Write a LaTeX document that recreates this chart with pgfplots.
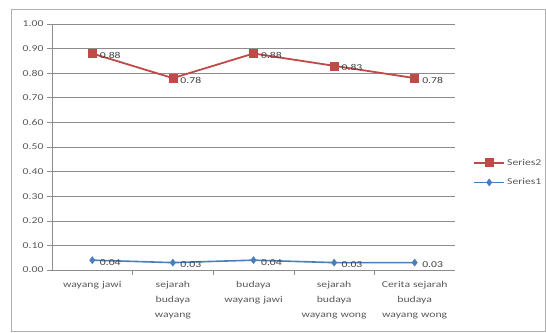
\documentclass[border=0pt]{standalone}
\usepackage{pgfplots}
\pgfplotsset{compat=1.18}
\usepackage{fontspec}
\setmainfont{Carlito}[FakeStretch=1.3]
\definecolor{serA}{HTML}{4A7EBB}
\definecolor{serB}{HTML}{BE4B48}
\definecolor{gridc}{HTML}{8C8C8C}
\definecolor{txt}{HTML}{595959}
\begin{document}
\begin{tikzpicture}[x=1pt,y=1pt]
  \begin{axis}[
    scale only axis, width=403pt, height=246pt,
    xmin=-0.5, xmax=4.5, ymin=0, ymax=1,
    xtick={0,1,2,3,4},
    xticklabels={wayang jawi, sejarah\\budaya\\wayang, budaya\\wayang jawi, sejarah\\budaya\\wayang wong, Cerita sejarah\\budaya\\wayang wong},
    x tick label style={align=center, text width=76pt, font=\fontsize{9}{15}\selectfont, text=txt, yshift=-3pt},
    major x tick style={draw=none},
    minor xtick={0.5,1.5,2.5,3.5},
    minor x tick style={gridc, line width=0.6pt},
    ytick={0,0.1,...,1.0},
    yticklabel style={font=\fontsize{9}{10}\selectfont, text=txt},
    /pgf/number format/assume math mode=true,
    yticklabel={\pgfmathprintnumber[fixed,fixed zerofill,precision=2]{\tick}},
    ymajorgrids, grid style={gridc, line width=0.6pt},
    tick align=outside, major tick length=5pt, minor tick length=5pt,
    y tick style={gridc, line width=0.6pt},
    axis x line*=bottom, axis y line*=left,
    axis line style={gridc, line width=0.6pt, -},
    legend image code/.code={%
      \draw[mark repeat=2, mark phase=2, #1] plot coordinates {(0pt,0pt) (15pt,0pt) (30pt,0pt)};},
    legend style={at={(1.045,0.396)}, anchor=west, draw=none, fill=none,
      inner xsep=0pt, font=\fontsize{9}{10}\selectfont, text=txt, row sep=8pt},
    legend cell align=left,
    nodes near coords={\pgfmathprintnumber[fixed,fixed zerofill,precision=2]{\pgfplotspointmeta}},
    point meta=y,
    every node near coord/.style={anchor=west, font=\fontsize{9}{10}\selectfont, text=black!75, xshift=4pt, yshift=-2pt},
  ]
    \addplot[serB, line width=1.8pt, mark=square*, mark size=4pt, mark options={fill=serB, draw=serB, line width=0.5pt}]
      coordinates {(0,0.88) (1,0.78) (2,0.88) (3,0.83) (4,0.78)};
    \addlegendentry{Series2}
    \addplot[serA, line width=1.6pt, mark=diamond*, mark size=3.5pt, mark options={fill=serA, draw=serA, line width=0.5pt}]
      coordinates {(0,0.04) (1,0.03) (2,0.04) (3,0.03) (4,0.03)};
    \addlegendentry{Series1}
  \end{axis}
  % chart frame
  \draw[gridc!70, line width=0.6pt] (-41,-61) rectangle (493.5,261);
  \pgfresetboundingbox
  \path (-52,-62) rectangle (494,270);
\end{tikzpicture}
\end{document}
